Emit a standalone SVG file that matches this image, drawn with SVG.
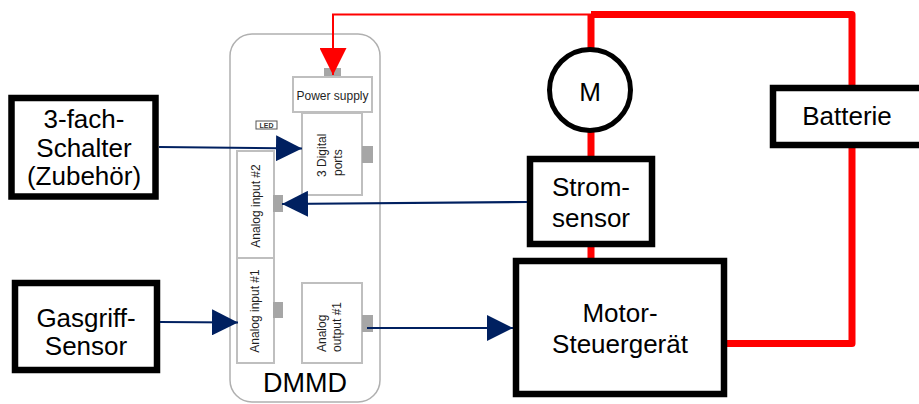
<svg xmlns="http://www.w3.org/2000/svg" width="919" height="404" viewBox="0 0 919 404">
<style>
.box{fill:#fff;stroke:#000;stroke-width:6.5}
.lbl{font-family:"Liberation Sans",Arial,sans-serif;font-size:26px;fill:#000;text-anchor:middle}
.comp{fill:#fff;stroke:#bfbfbf;stroke-width:2}
.port{fill:#a6a6a6;stroke:none}
.small{font-family:"Liberation Sans",Arial,sans-serif;font-size:12px;fill:#1f1f1f}
.pwr{fill:none;stroke:#ff0000;stroke-width:7;stroke-linejoin:round}
.sig{fill:none;stroke:#002060;stroke-width:2.2}
</style>
<defs>
<marker id="ab" markerUnits="userSpaceOnUse" markerWidth="26" markerHeight="26" viewBox="0 0 26 26" refX="26" refY="13" orient="auto">
<path d="M0,0 L26,13 L0,26 Z" fill="#002060"/>
</marker>
<marker id="ar" markerUnits="userSpaceOnUse" markerWidth="27" markerHeight="27" viewBox="0 0 27 27" refX="27" refY="13.5" orient="auto">
<path d="M0,0 L27,13.5 L0,27 Z" fill="#ff0000"/>
</marker>
</defs>

<g id="connectors">
<path class="pwr" d="M591,14.5 H852 V343.5 H727"/>
<path class="pwr" d="M591,14.5 V258"/>
</g>

<g id="dmmd">
<rect x="230" y="34" width="150" height="368" rx="22" fill="#fff" stroke="#b0b0b0" stroke-width="1.5"/>
<text x="305" y="392" font-family="'Liberation Sans',Arial,sans-serif" font-size="27" text-anchor="middle" fill="#000">DMMD</text>
</g>

<g id="power-supply">
<rect class="port" x="324" y="68" width="17" height="9"/>
<rect class="comp" x="293" y="77" width="79" height="35"/>
<text class="small" x="332.5" y="100" text-anchor="middle" font-size="11.5">Power supply</text>
</g>

<g id="led">
<rect x="256" y="121" width="21" height="8" fill="#fff" stroke="#555" stroke-width="1"/>
<text x="266.5" y="127.6" font-family="'Liberation Sans',Arial,sans-serif" font-size="7" font-weight="bold" text-anchor="middle" fill="#333">LED</text>
</g>

<g id="digital-ports">
<rect class="comp" x="302" y="113" width="60" height="82"/>
<rect class="port" x="362" y="146" width="11" height="17"/>
<text class="small" transform="translate(326,177) rotate(-90)">3 Digital</text>
<text class="small" transform="translate(342,176) rotate(-90)">ports</text>
</g>

<g id="analog-input-2">
<rect class="comp" x="237" y="151" width="37" height="107"/>
<rect class="port" x="273" y="195" width="10" height="17"/>
<text class="small" text-anchor="middle" transform="translate(259.5,206) rotate(-90)">Analog input #2</text>
</g>

<g id="analog-input-1">
<rect class="comp" x="237" y="258" width="37" height="105"/>
<rect class="port" x="273" y="302" width="10" height="16"/>
<text class="small" text-anchor="middle" transform="translate(259,311) rotate(-90)">Analog input #1</text>
</g>

<g id="analog-output-1">
<rect class="comp" x="302" y="283" width="60" height="80"/>
<rect class="port" x="362" y="315" width="11" height="17"/>
<text class="small" transform="translate(326,352) rotate(-90)">Analog</text>
<text class="small" transform="translate(341,352) rotate(-90)">output #1</text>
</g>

<g id="schalter">
<rect class="box" x="11.5" y="98" width="144" height="98.5"/>
<text class="lbl" x="84" y="128">3-fach-</text>
<text class="lbl" x="84" y="157">Schalter</text>
<text class="lbl" x="84" y="185">(Zubehör)</text>
</g>

<g id="gasgriff">
<rect class="box" x="15" y="283" width="142" height="87"/>
<text class="lbl" x="86" y="326.5" font-size="25">Gasgriff-</text>
<text class="lbl" x="86" y="355" font-size="25">Sensor</text>
</g>

<g id="motor">
<circle cx="590" cy="90" r="40.5" fill="#fff" stroke="#000" stroke-width="5"/>
<text class="lbl" x="590" y="101" font-size="30">M</text>
</g>

<g id="stromsensor">
<rect class="box" x="530" y="159" width="122" height="85"/>
<text class="lbl" x="591" y="196">Strom-</text>
<text class="lbl" x="591" y="227">sensor</text>
</g>

<g id="motor-steuergeraet">
<rect class="box" x="516" y="261" width="208" height="133"/>
<text class="lbl" x="620" y="322">Motor-</text>
<text class="lbl" x="620" y="353">Steuergerät</text>
</g>

<g id="batterie">
<rect class="box" x="773" y="88" width="152" height="57"/>
<text class="lbl" x="847" y="125">Batterie</text>
</g>

<g id="signals">
<path d="M591,14.5 H333 V75" fill="none" stroke="#ff0000" stroke-width="2" marker-end="url(#ar)"/>
<path class="sig" d="M159,147 L302,148.5" marker-end="url(#ab)"/>
<path class="sig" d="M527,202 L282,204" marker-end="url(#ab)"/>
<path class="sig" d="M160,322 L238,322.5" marker-end="url(#ab)"/>
<path class="sig" d="M367,328 L513,328" marker-end="url(#ab)"/>
</g>
</svg>
